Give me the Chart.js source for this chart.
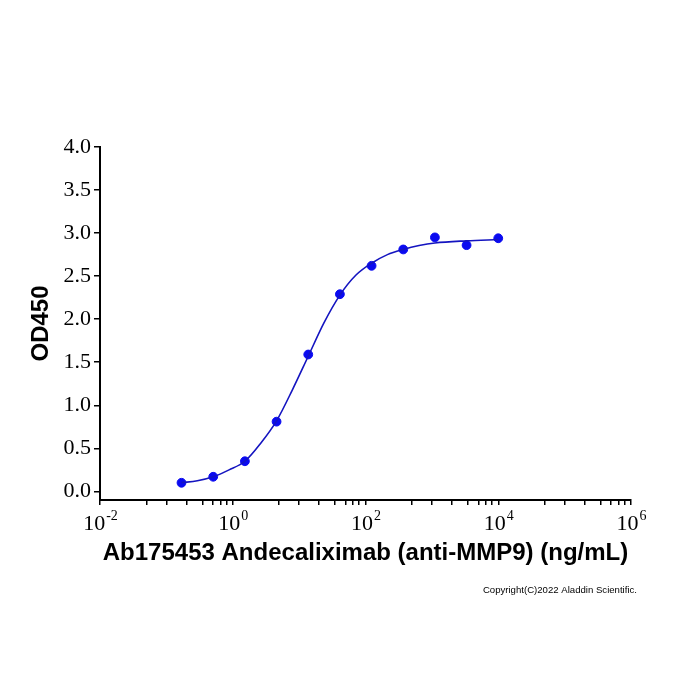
<!DOCTYPE html>
<html>
<head>
<meta charset="utf-8">
<script src="https://cdn.jsdelivr.net/npm/chart.js@4.4.0/dist/chart.umd.min.js"></script>
<style>
  html, body { margin: 0; padding: 0; background: #fff; }
</style>
</head>
<body>
<canvas id="elisaChart" width="700" height="700"></canvas>
<script>
// measured points, 3-fold serial dilution (ng/mL) vs OD450
const concentrations = [0.169, 0.508, 1.524, 4.572, 13.72, 41.15, 123.5, 370.4, 1111, 3333, 10000];
const od450 = [0.10, 0.17, 0.35, 0.81, 1.59, 2.29, 2.62, 2.81, 2.95, 2.86, 2.94];

// fitted curve, values
const curveX = [0.169, 0.293, 0.508, 0.880, 1.524, 2.64, 4.572, 7.92, 13.72, 23.76, 41.15, 71.3, 123.5, 213.8, 370.4, 641.5, 1111, 3333, 10000];
const curveY = [0.10, 0.124, 0.17, 0.25, 0.35, 0.56, 0.82, 1.18, 1.57, 1.96, 2.28, 2.51, 2.65, 2.75, 2.81, 2.855, 2.885, 2.91, 2.925];

// axis ticks
const xMajorTicks = [0.01, 1, 100, 10000, 1000000];
const xExponents = ["-2", "0", "2", "4", "6"];
const xMinorSteps = [5, 10, 20, 35, 50, 65, 80];
const yTicks = [0, 0.5, 1, 1.5, 2, 2.5, 3, 3.5, 4];

const xTickValues = xMajorTicks.concat(
  xMajorTicks.slice(0, -1).flatMap(m => xMinorSteps.map(s => m * s))
);

const serif = '"Liberation Serif", "Times New Roman", serif';
const sans = '"Liberation Sans", Arial, sans-serif';

// "10" with a raised exponent under each major x tick, plus the copyright line
const extraText = {
  id: "extraText",
  afterDraw(chart) {
    const { ctx, scales: { x } } = chart;
    ctx.save();
    ctx.fillStyle = "#000";
    ctx.textBaseline = "alphabetic";
    xMajorTicks.forEach((v, i) => {
      const px = x.getPixelForValue(v);
      ctx.font = "22px " + serif;
      const w1 = ctx.measureText("10").width;
      ctx.font = "14px " + serif;
      const w2 = ctx.measureText(xExponents[i]).width;
      const start = px - (w1 + w2) / 2;
      ctx.font = "22px " + serif;
      ctx.textAlign = "left";
      ctx.fillText("10", start, 530);
      ctx.font = "14px " + serif;
      ctx.fillText(xExponents[i], start + w1 + 1, 520);
    });
    ctx.font = "9.6px " + sans;
    ctx.textAlign = "right";
    ctx.fillText("Copyright(C)2022 Aladdin Scientific.", 637, 593);
    ctx.restore();
  },
};

const ctxElisa = document.getElementById("elisaChart").getContext("2d");
new Chart(ctxElisa, {
  type: "scatter",
  data: {
    datasets: [
      {
        type: "line",
        data: curveX.map((c, i) => ({ x: c, y: curveY[i] })),
        borderColor: "#1414c0",
        borderWidth: 1.6,
        pointRadius: 0,
        cubicInterpolationMode: "monotone",
        fill: false,
      },
      {
        data: concentrations.map((c, i) => ({ x: c, y: od450[i] })),
        backgroundColor: "#0a0af0",
        borderColor: "#0a0af0",
        pointRadius: 4.4,
      },
    ],
  },
  options: {
    responsive: false,
    animation: false,
    layout: { padding: { top: 147, right: 69, bottom: 120, left: 0 } },
    plugins: {
      legend: { display: false },
      tooltip: { enabled: false },
    },
    scales: {
      x: {
        type: "logarithmic",
        min: 0.01,
        max: 1000000,
        afterBuildTicks: s => { s.ticks = xTickValues.map(v => ({ value: v })); },
        afterFit: s => { s.height = 80; },
        border: { color: "#000", width: 2 },
        grid: { drawOnChartArea: false, drawTicks: true, tickLength: 5, color: "#000", lineWidth: 1.5 },
        ticks: { display: false, autoSkip: false },
        title: {
          display: true,
          text: "Ab175453 Andecaliximab (anti-MMP9) (ng/mL)",
          color: "#000",
          font: { family: sans, size: 24, weight: "bold" },
          padding: { top: 0, bottom: 12 },
        },
      },
      y: {
        min: -0.1,
        max: 4,
        afterBuildTicks: s => { s.ticks = yTicks.map(v => ({ value: v })); },
        afterFit: s => { s.width = 100; },
        border: { color: "#000", width: 2 },
        grid: { drawOnChartArea: false, drawTicks: true, tickLength: 6, color: "#000", lineWidth: 1.5 },
        ticks: {
          color: "#000",
          padding: 3,
          font: { family: serif, size: 22 },
          callback: v => v.toFixed(1),
        },
        title: {
          display: true,
          text: "OD450",
          color: "#000",
          font: { family: sans, size: 24, weight: "bold" },
          padding: { top: 27, bottom: 0 },
        },
      },
    },
  },
  plugins: [extraText],
});
</script>
</body>
</html>
